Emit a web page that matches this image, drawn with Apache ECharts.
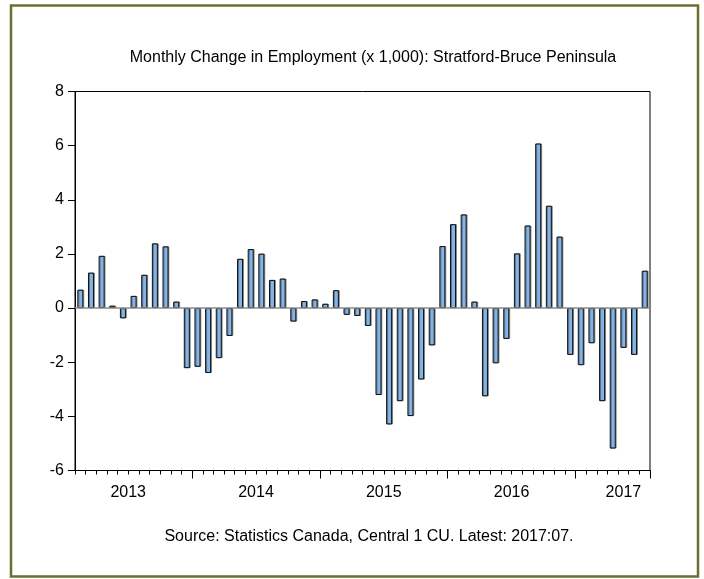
<!DOCTYPE html>
<html>
<head>
<meta charset="utf-8">
<script src="https://cdn.jsdelivr.net/npm/echarts@6/dist/echarts.min.js"></script>
<style>
  html, body { margin: 0; padding: 0; background: #fff; }
  #chart { width: 704px; height: 579px; }
</style>
</head>
<body>
<div id="chart"></div>
<script>
// Monthly categories: 2013:02 .. 2017:07
var months = [
  '2013:02','2013:03','2013:04','2013:05','2013:06','2013:07','2013:08','2013:09','2013:10','2013:11','2013:12',
  '2014:01','2014:02','2014:03','2014:04','2014:05','2014:06','2014:07','2014:08','2014:09','2014:10','2014:11','2014:12',
  '2015:01','2015:02','2015:03','2015:04','2015:05','2015:06','2015:07','2015:08','2015:09','2015:10','2015:11','2015:12',
  '2016:01','2016:02','2016:03','2016:04','2016:05','2016:06','2016:07','2016:08','2016:09','2016:10','2016:11','2016:12',
  '2017:01','2017:02','2017:03','2017:04','2017:05','2017:06','2017:07'
];
// Monthly change in employment (x 1,000)
var changes = [
  0.68, 1.31, 1.93, 0.09, -0.38, 0.45, 1.23, 2.39, 2.28, 0.24, -2.22,
  -2.17, -2.40, -1.85, -1.03, 1.82, 2.18, 2.01, 1.04, 1.09, -0.50, 0.26, 0.32,
  0.16, 0.66, -0.25, -0.29, -0.66, -3.21, -4.30, -3.44, -3.99, -2.64, -1.38, 2.29,
  3.10, 3.46, 0.24, -3.26, -2.04, -1.14, 2.02, 3.05, 6.08, 3.78, 2.64, -1.73,
  -2.11, -1.30, -3.44, -5.19, -1.47, -1.73, 1.38
];
// Year labels and the month under which each is placed
var yearLabelAt = {'2013:06':'2013','2014:06':'2014','2015:06':'2015','2016:06':'2016','2017:05':'2017'};
var yTicks = {min: -6, max: 8, interval: 2};

var titleText = 'Monthly Change in Employment (x 1,000): Stratford-Bruce Peninsula';
var sourceText = 'Source: Statistics Canada, Central 1 CU. Latest: 2017:07.';

var FONT = '"Liberation Sans", Arial, sans-serif';
var FS = 16;
var chart = echarts.init(document.getElementById('chart'), null, {renderer: 'canvas'});

var option = {
  animation: false,
  backgroundColor: '#ffffff',
  title: [
    {text: titleText, left: 368, top: 45, textAlign: 'center',
     textStyle: {fontFamily: FONT, fontSize: FS, fontWeight: 'normal', color: '#000'}},
    {text: sourceText, left: 364, top: 524, textAlign: 'center',
     textStyle: {fontFamily: FONT, fontSize: FS, fontWeight: 'normal', color: '#000'}}
  ],
  graphic: [{
    type: 'rect', silent: true, z: -1,
    shape: {x: 11, y: 5.5, width: 687, height: 571},
    style: {fill: 'none', stroke: '#6e6e31', lineWidth: 2.5}
  }],
  grid: {left: 75, right: 54, top: 91.5, bottom: 108.5, show: true,
         borderColor: '#000', borderWidth: 1, backgroundColor: 'transparent'},
  xAxis: [
    {
      type: 'category', data: months, boundaryGap: true, position: 'bottom',
      axisLine: {show: true, onZero: false, lineStyle: {color: '#000', width: 1}},
      axisTick: {show: true, interval: 0, length: 4, inside: false, lineStyle: {color: '#000'}},
      axisLabel: {show: false}, splitLine: {show: false}
    },
    {
      type: 'category', data: months, boundaryGap: true, position: 'bottom',
      axisLine: {show: false, onZero: false},
      axisTick: {show: true, length: 8, inside: false, lineStyle: {color: '#000'},
                 interval: function (i, v) { return /:01$/.test(v); }},
      axisLabel: {
        show: true, margin: 14,
        interval: function (i, v) { return yearLabelAt.hasOwnProperty(v); },
        formatter: function (v) {
          var y = yearLabelAt[v];
          return y === '2017' ? '{n|' + y + '}' : '{s|' + y + '}';
        },
        rich: {
          s: {fontFamily: FONT, fontSize: FS, color: '#000', padding: [0, 0, 0, 10.6]},
          n: {fontFamily: FONT, fontSize: FS, color: '#000'}
        }
      },
      splitLine: {show: false}
    }
  ],
  yAxis: {
    type: 'value', min: yTicks.min, max: yTicks.max, interval: yTicks.interval,
    axisLine: {show: true, lineStyle: {color: '#000'}},
    axisTick: {show: true, length: 7, inside: false, lineStyle: {color: '#000'}},
    axisLabel: {margin: 11, fontFamily: FONT, fontSize: FS, color: '#000'},
    splitLine: {show: false}
  },
  series: [{
    type: 'bar', data: changes, xAxisIndex: 0, barWidth: 6,
    itemStyle: {color: '#84b4e4', borderColor: '#111', borderWidth: 1,
                shadowColor: 'rgba(0,0,0,0.35)', shadowOffsetX: 1, shadowBlur: 0},
    markLine: {
      silent: true, symbol: ['none', 'none'], label: {show: false},
      lineStyle: {color: '#8a8a8a', width: 1.5, type: 'solid'},
      data: [{yAxis: 0}]
    }
  }]
};
chart.setOption(option);
</script>
</body>
</html>
